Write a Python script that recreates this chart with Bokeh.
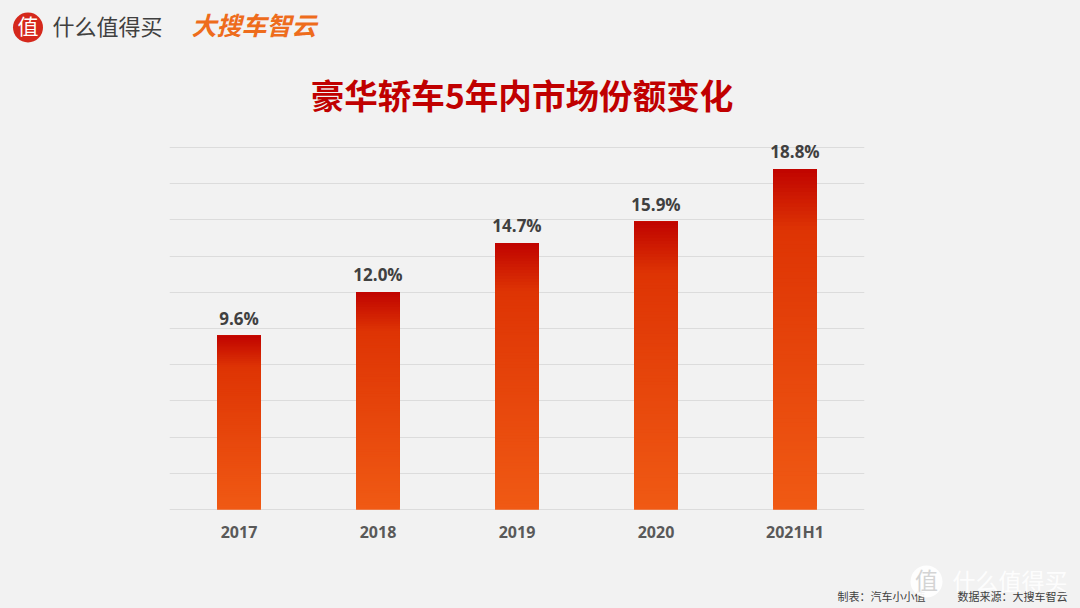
from bokeh.plotting import figure
from bokeh.layouts import column
from bokeh.embed import file_html
from bokeh.resources import INLINE
from bokeh.models import FixedTicker
from bokeh.core.properties import value

categories = ["2017", "2018", "2019", "2020", "2021H1"]
shares = [9.6, 12.0, 14.7, 15.9, 18.8]
labels = ["9.6%", "12.0%", "14.7%", "15.9%", "18.8%"]
grid_ticks = [0, 2, 4, 6, 8, 10, 12, 14, 16, 18, 20]

BG = "#f2f2f2"
CJK = "Noto Sans CJK SC"
W, H = 1080, 608
HEAD_H, CHART_BOTTOM = 130, 545
BAR_W = 0.316

p = figure(width=W, height=CHART_BOTTOM - HEAD_H, x_range=categories, y_range=(-0.1, 20.93),
           output_backend="svg", toolbar_location=None,
           background_fill_color=BG, border_fill_color=BG,
           min_border_left=169, min_border_right=216,
           min_border_top=0, min_border_bottom=CHART_BOTTOM - 511)
p.frame_align = False
p.outline_line_color = None
p.xgrid.grid_line_color = None
p.ygrid.grid_line_color = "#dcdcdc"
p.ygrid.grid_line_width = 1
p.yaxis.visible = False
p.yaxis.ticker = FixedTicker(ticks=grid_ticks)
p.xaxis.axis_line_color = None
p.xaxis.major_tick_line_color = None
p.xaxis.minor_tick_line_color = None
p.xaxis.major_label_text_font = "Open Sans"
p.xaxis.major_label_text_font_style = "bold"
p.xaxis.major_label_text_font_size = "16px"
p.xaxis.major_label_text_color = "#595959"
p.xaxis.major_label_standoff = 3

def lerp(a, b, t):
    return tuple(round(x + (y - x) * t) for x, y in zip(a, b))

def grad(t):
    bottom, mid, top = (240, 90, 20), (222, 52, 4), (192, 4, 0)
    if t < 0.82:
        return lerp(bottom, mid, t / 0.82)
    return lerp(mid, top, (t - 0.82) / 0.18)

STEPS = 90
for c, v in zip(categories, shares):
    for i in range(STEPS):
        r, g, b = grad((i + 0.5) / STEPS)
        p.vbar(x=[c], width=BAR_W, bottom=v * i / STEPS, top=v,
               fill_color=f"#{r:02x}{g:02x}{b:02x}", line_color=None)

p.text(x=categories, y=shares, text=labels, text_align="center", text_baseline="bottom",
       y_offset=-6, text_font=value("Open Sans"), text_font_style="bold",
       text_font_size="17px", text_color="#404040")

def band(top, bottom):
    f = figure(width=W, height=bottom - top, x_range=(0, W), y_range=(bottom, top),
               output_backend="svg", toolbar_location=None,
               x_axis_type=None, y_axis_type=None,
               background_fill_color=BG, border_fill_color=BG,
               min_border=0, min_border_left=0, min_border_right=0,
               min_border_top=0, min_border_bottom=0)
    f.frame_align = False
    f.outline_line_color = None
    f.grid.visible = False
    return f

def label(f, x, y, text, size, color, style="normal", align="left", alpha=1.0):
    f.text(x=[x], y=[y], text=[text], text_font=value(CJK), text_font_size=size,
           text_font_style=style, text_color=color, text_align=align,
           text_baseline="middle", text_alpha=alpha)

head = band(0, HEAD_H)
label(head, 521.5, 94, "豪华轿车5年内市场份额变化", "33.6px", "#c00000", style="bold", align="center")
head.scatter(x=[27.5], y=[27], size=30, marker="circle", fill_color="#d5281c", line_color=None)
label(head, 27.5, 24.5, "值", "21px", "#ffffff", align="center")
label(head, 52, 24, "什么值得买", "22px", "#404040")
label(head, 191, 23, "大搜车智云", "25px", "#ee6c1c", style="bold italic")

foot = band(CHART_BOTTOM, H)
label(foot, 837, 595, "制表：汽车小小值", "11px", "#404040")
label(foot, 957, 595, "数据来源：大搜车智云", "11px", "#404040")
foot.scatter(x=[926], y=[581], size=32, marker="circle", fill_color="#ffffff", fill_alpha=0.92, line_color=None)
label(foot, 926, 578, "值", "23px", "#d4d4d4", align="center")
label(foot, 952, 579, "什么值得买", "23px", "#ffffff", alpha=0.9)

layout = column(head, p, foot, spacing=0)
html = file_html(layout, INLINE)
html = html.replace("<body>", f'<body style="background:{BG}">')
open("out.html", "w").write(html)
